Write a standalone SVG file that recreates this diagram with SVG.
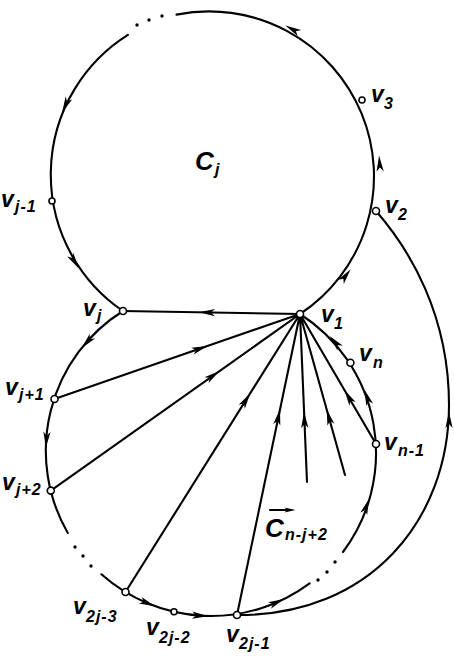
<svg xmlns="http://www.w3.org/2000/svg" width="454" height="660" viewBox="0 0 454 660">
<style>
.e{fill:none;stroke:#000;stroke-width:2.1;stroke-linecap:round}
.n{fill:#fff;stroke:#000;stroke-width:1.6}
.d{fill:#000}
text{font-family:"Liberation Sans",Arial,sans-serif;font-style:italic;fill:#000}
.v{font-size:23px;font-weight:bold}
.s{font-size:16px;font-weight:bold;letter-spacing:1px}
.c{font-size:26px;font-weight:bold}
</style>
<defs>
<path id="ah" d="M8,0 L-8,-3.6 L-4,0 L-8,3.6 Z" fill="#000"/>
</defs>
<rect width="454" height="660" fill="#fff"/>
<g id="connectors">
<path class="e" d="M300,314 A165,165 0 0 0 176.5,14.6"/>
<path class="e" d="M127.9,34.9 A165,165 0 0 0 123,311"/>
<path class="e" d="M300,314 L123,311"/>
<path class="e" d="M123,311 A165,165 0 0 0 67.8,533"/>
<path class="e" d="M101.4,574.3 A165,165 0 0 0 309.6,583.3"/>
<path class="e" d="M343,552 A165,165 0 0 0 300,314"/>
<path class="e" d="M376,211 C410,250 449,315 449,405 C449,520 370,616 237,615"/>
<path class="e" d="M54.5,399 L300,314 M50.8,490.6 L300,314 M125.5,592 L300,314 M237,615 L300,314 M307,482 L300,314 M345,475 L300,314 M376,444 L300,314"/>
<g class="d">
<circle cx="137" cy="25" r="1.7"/><circle cx="149" cy="20" r="1.7"/><circle cx="162" cy="16" r="1.7"/>
<circle cx="75" cy="547" r="1.7"/><circle cx="83" cy="556" r="1.7"/><circle cx="91" cy="566" r="1.7"/>
<circle cx="335" cy="562" r="1.7"/><circle cx="327" cy="572" r="1.7"/><circle cx="318" cy="580" r="1.7"/>
</g>
<use href="#ah" transform="translate(292.4,29.3) rotate(-152)"/>
<use href="#ah" transform="translate(379.6,163.5) rotate(-94)"/>
<use href="#ah" transform="translate(345.8,275.5) rotate(-52.5)"/>
<use href="#ah" transform="translate(65.5,105.2) rotate(115)"/>
<use href="#ah" transform="translate(74.4,261.5) rotate(58.4)"/>
<use href="#ah" transform="translate(207,312.5) rotate(181)"/>
<use href="#ah" transform="translate(87.1,342.1) rotate(131.3)"/>
<use href="#ah" transform="translate(46.4,439.8) rotate(93.9)"/>
<use href="#ah" transform="translate(147.6,603.3) rotate(22.6)"/>
<use href="#ah" transform="translate(200.1,615.7) rotate(3.8)"/>
<use href="#ah" transform="translate(276.8,602.3) rotate(-23.5)"/>
<use href="#ah" transform="translate(366.4,506.3) rotate(-70.4)"/>
<use href="#ah" transform="translate(367.1,397.2) rotate(-109)"/>
<use href="#ah" transform="translate(334.9,342.1) rotate(-131.3)"/>
<use href="#ah" transform="translate(200,348.6) rotate(-19.1)"/>
<use href="#ah" transform="translate(213,375.5) rotate(-35.3)"/>
<use href="#ah" transform="translate(246,400) rotate(-57.9)"/>
<use href="#ah" transform="translate(278.4,417) rotate(-78.2)"/>
<use href="#ah" transform="translate(304.4,420) rotate(-92.4)"/>
<use href="#ah" transform="translate(328.8,417) rotate(-105.6)"/>
<use href="#ah" transform="translate(348.5,397) rotate(-120.3)"/>
<use href="#ah" transform="translate(449,420) rotate(-90)"/>
</g>
<g id="label-Cj"><text class="c" x="195" y="170">C</text><text class="s" x="215" y="175">j</text></g>
<g id="label-Cn">
<text class="c" x="265" y="537">C</text><text class="s" x="285" y="540">n-j+2</text>
<path class="e" d="M270,510 L288,510" stroke-width="1.6"/>
<use href="#ah" transform="translate(290,510) scale(0.7)"/>
</g>
<g id="v1"><circle class="n" cx="300" cy="314" r="3.5"/><text class="v" x="321" y="322">v</text><text class="s" x="334" y="329">1</text></g>
<g id="v2"><circle class="n" cx="376" cy="211" r="3.5"/><text class="v" x="385" y="213">v</text><text class="s" x="398" y="220">2</text></g>
<g id="v3"><circle class="n" cx="362" cy="100" r="3"/><text class="v" x="371" y="102">v</text><text class="s" x="384" y="109">3</text></g>
<g id="vj-1"><circle class="n" cx="52" cy="201" r="3"/><text class="v" x="1" y="207">v</text><text class="s" x="15" y="212">j-1</text></g>
<g id="vj"><circle class="n" cx="123" cy="311" r="3.5"/><text class="v" x="83" y="316">v</text><text class="s" x="97" y="321">j</text></g>
<g id="vj+1"><circle class="n" cx="54.5" cy="399" r="3.5"/><text class="v" x="5" y="395">v</text><text class="s" x="19" y="400">j+1</text></g>
<g id="vj+2"><circle class="n" cx="50.8" cy="490.6" r="3.5"/><text class="v" x="2" y="490">v</text><text class="s" x="16" y="495">j+2</text></g>
<g id="v2j-3"><circle class="n" cx="125.5" cy="592" r="3.5"/><text class="v" x="73" y="614">v</text><text class="s" x="86" y="622">2j-3</text></g>
<g id="v2j-2"><circle class="n" cx="174" cy="611.8" r="3"/><text class="v" x="146" y="635">v</text><text class="s" x="159" y="643">2j-2</text></g>
<g id="v2j-1"><circle class="n" cx="237" cy="615" r="3.5"/><text class="v" x="226" y="642">v</text><text class="s" x="239" y="649">2j-1</text></g>
<g id="vn"><circle class="n" cx="350.4" cy="362.8" r="3.5"/><text class="v" x="359" y="361">v</text><text class="s" x="373" y="368">n</text></g>
<g id="vn-1"><circle class="n" cx="376" cy="444" r="3.5"/><text class="v" x="384" y="450">v</text><text class="s" x="398" y="456">n-1</text></g>
</svg>
